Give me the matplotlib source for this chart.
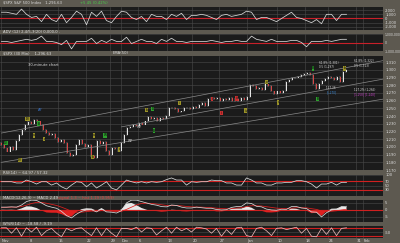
import matplotlib
matplotlib.use('Agg')
import matplotlib.pyplot as plt
import numpy as np

# ---------------- data ----------------
closes = [1203, 1198, 1194, 1200, 1196, 1208, 1215, 1222, 1228, 1232, 1230, 1235, 1233, 1228, 1222,
          1218, 1215, 1217, 1212, 1206, 1209, 1205, 1192, 1188, 1190, 1203, 1209, 1204, 1200, 1203,
          1188, 1186, 1208, 1204, 1206, 1195, 1190, 1199, 1197, 1195, 1205, 1215, 1224, 1226, 1228,
          1227, 1231, 1229, 1233, 1239, 1236, 1238, 1234, 1237, 1236, 1240, 1250, 1251, 1249, 1245,
          1246, 1250, 1251, 1249, 1252, 1250, 1254, 1257, 1253, 1262, 1264, 1262, 1263, 1260, 1262,
          1261, 1264, 1259, 1262, 1260, 1263, 1261, 1265, 1280, 1279, 1275, 1277, 1274, 1281, 1279,
          1272, 1269, 1272, 1270, 1273, 1284, 1287, 1289, 1290, 1291, 1293, 1295, 1296, 1293, 1282,
          1275, 1282, 1285, 1288, 1291, 1289, 1287, 1291, 1284, 1297, 1300]
first_open = 1205

p1_vals = [1500, 1500, 1250, 1000, 2250, 1000, 250, 500, -750, 1000,
           -250, -750, 1000, -1000, 250, 1750, 1000, -1500, 1500, 500,
           1750, -500, -1000, 500, 1750, 1500, 250, -250, 500, -750,
           1000, 500, 500, -250, 1000, 500, 1250, -250, 750, 750,
           1000, 750, 250, -250, 750, 1000, 500, 750, 1000, 1750,
           1500, -250, 250, 250, -250, -750, 0, 750, 1500, 250,
           0, -500, -1000, -250, -1250, 1000, 1000, -500, 1000, 1000]

p2_vals = [125, 125, 0, 125, 250, 375, 250, 375, 750, 125,
           125, 0, -250, 250, -750, 125, 125, 125, 500, -125,
           250, 0, 375, 125, 125, 625, -125, 125, 375, 125,
           125, -125, 375, 125, 500, 125, 125, 0, 125, 125,
           125, 125, 250, 125, 0, 125, 125, 250, 125, 125,
           750, 375, 250, 125, 375, 125, 125, 125, 250, 250,
           0, -500, 125, 125, 125, 250, 125, 250, 375, 375]  # thousands

rsi_vals = [68, 68, 68, 62, 62, 76, 68, 57, 68, 68,
            52, 62, 44, 33, 52, 68, 65, 44, 62, 38,
            52, 68, 38, 29, 52, 76, 68, 62, 68, 62,
            68, 65, 68, 78, 86, 76, 76, 52, 68, 65,
            68, 68, 76, 73, 73, 62, 62, 52, 52, 86,
            76, 62, 62, 52, 52, 62, 62, 65, 65, 73,
            73, 68, 57, 38, 57, 57, 65, 52, 65, 65]

macd_vals = [2.0, 2.0, 2.2, 2.0, 3.5, 6.0, 7.0, 6.8, 5.0, 3.0,
             2.0, 1.2, -1.0, -4.0, -5.7, -3.0, -1.0, 0.0, 0.2, -1.4,
             0.8, -1.4, -1.6, -2.2, -0.5, 5.0, 7.0, 7.0, 6.0, 5.0,
             4.0, 3.4, 2.4, 2.2, 3.5, 3.2, 2.0, 1.4, 1.4, 2.0,
             1.6, 1.2, 1.2, 0.3, 0.0, 0.2, 1.8, 2.4, 2.6, 5.0,
             4.6, 2.6, 2.2, 0.6, 0.0, -0.2, 0.5, 0.4, 2.4, 2.4,
             1.4, 1.0, -1.4, -1.6, -5.0, -2.0, 0.0, 0.4, 2.4, 2.6]

signal_vals = [1.8, 1.9, 2.0, 2.0, 2.4, 3.4, 4.6, 5.4, 5.4, 4.8,
               4.0, 3.2, 2.0, 0.6, -1.0, -1.6, -1.6, -1.2, -0.8, -0.9,
               -0.5, -0.7, -0.9, -1.2, -1.0, 0.4, 2.0, 3.6, 4.6, 4.8,
               4.6, 4.2, 3.7, 3.2, 3.3, 3.2, 2.9, 2.5, 2.2, 2.1,
               2.0, 1.8, 1.6, 1.3, 1.0, 0.8, 1.0, 1.3, 1.6, 2.4,
               3.0, 3.0, 2.8, 2.3, 1.8, 1.3, 1.1, 1.0, 1.3, 1.6,
               1.6, 1.5, 0.9, 0.4, -0.8, -1.1, -0.9, -0.6, 0.0, 0.5]

wr_vals = [-15, -15, -60, -15, -85, -15, -50, -10, -80, -40,
           -20, -60, -90, -20, -40, -20, -15, -50, -80, -15,
           -80, -20, -60, -90, -20, -20, -30, -10, -50, -15,
           -20, -75, -40, -10, -60, -10, -40, -20, -50, -10,
           -15, -25, -60, -20, -85, -30, -70, -15, -10, -80,
           -90, -20, -10, -40, -80, -20, -15, -30, -20, -10,
           -60, -20, -85, -90, -20, -70, -15, -80, -20, -15]

date_labels = ['Nov', '8', '15', '22', '29', 'Dec', '6', '13', '20', '27', 'Jan', '10', '18', '24', '31', 'Feb']
date_pos_px = [0, 28, 57, 85, 109, 120, 137, 166, 191, 218, 246, 276, 304, 327, 355, 362]

price_ticks = list(range(1170, 1320, 10))

# ---------------- layout ----------------
W, H = 400, 243
BG = '#5d5950'
PANEL = '#1b1b1b'
GRID = '#4a4a4a'
TXT = '#dcdcdc'
FS = 2.7

fig = plt.figure(figsize=(4, 2.43), dpi=100)
fig.patch.set_facecolor(BG)

n = len(closes)
bar_step_px = 3.0
xlim = (-0.5, 383 / bar_step_px - 0.5)
ind_x = np.linspace(0, n - 1, len(p1_vals))
date_pos = [p / bar_step_px for p in date_pos_px]


def ax_px(x0, y0, x1, y1):
    ax = fig.add_axes([x0 / W, 1 - y1 / H, (x1 - x0) / W, (y1 - y0) / H])
    ax.set_facecolor(PANEL)
    ax.set_xlim(*xlim)
    ax.set_xticks(date_pos)
    ax.set_xticklabels([])
    ax.tick_params(axis='x', length=0)
    ax.yaxis.tick_right()
    ax.tick_params(axis='y', length=0, labelsize=FS, labelcolor=TXT, pad=1.5)
    for s in ax.spines.values():
        s.set_visible(False)
    ax.grid(True, color=GRID, lw=0.4)
    ax.set_axisbelow(True)
    return ax


def fmt(v):
    return f'{v:,.0f}'

# Panel 1
ax1 = ax_px(0, 7, 383, 30)
ax1.set_ylim(-2750, 2750)
ax1.set_yticks([2000, 1000, 0, -1000, -2000])
ax1.set_yticklabels([fmt(v) for v in [2000, 1000, 0, -1000, -2000]])
ax1.axhline(0, color='#c8202a', lw=0.8)
ax1.plot(ind_x, p1_vals, color='#d8d8d8', lw=0.55)

# Panel 2
ax2 = ax_px(0, 34, 383, 51)
ax2.set_ylim(-1000, 1000)
ax2.set_yticks([1000, 0, -1000])
ax2.set_yticklabels(['1,000,000', '0', '-1,000,000'])
ax2.tick_params(axis='y', labelsize=2.2, pad=1.0)
ax2.axhline(0, color='#c8202a', lw=0.8)
ax2.plot(ind_x, p2_vals, color='#d8d8d8', lw=0.55)

# Main price panel
ax3 = ax_px(0, 56, 383, 170)
ax3.set_ylim(1170, 1318)
ax3.set_yticks(price_ticks)
ax3.set_yticklabels([fmt(v) for v in price_ticks])
opens = [first_open] + closes[:-1]
xs = np.arange(n)
for i in range(n):
    o, c = opens[i], closes[i]
    col = '#f0f0f0' if c >= o else '#e02828'
    lo, hi = min(o, c), max(o, c)
    ax3.vlines(xs[i], lo - 1.2, hi + 1.2, color='#bbbbbb', lw=0.3)
    ax3.bar(xs[i], max(hi - lo, 0.6), bottom=lo, width=0.5, color=col, lw=0)

# channel lines
chan = [((0, 1218), (127.2, 1312)), ((40, 1226), (127.2, 1288)), ((0, 1180), (127.2, 1262))]
for (xa, ya), (xb, yb) in chan:
    ax3.plot([xa, xb], [ya, yb], color='#8a8a8a', lw=0.5)

ax3.text(9, 1305, '30-minute chart', fontsize=FS, color=TXT)

olive = '#9a9228'
green = '#2ea02e'
tags = [
    (0.8, 1205, '(1)', green), (8, 1236, '(3)', olive), (10.5, 1215, 'a', olive),
    (14, 1210, 'c', olive), (5.5, 1183, '(2)', olive), (12, 1230, 'B', green),
    (30.5, 1215, 'a', olive), (34, 1215, 'W', green), (30, 1187, 'b', olive),
    (39, 1197, 'c', olive), (48, 1248, 'b', olive), (50, 1249, 'D', green),
    (50.5, 1221, 'B', green), (59, 1257, 'ii', olive), (70, 1262, 'i', '#c83030'),
    (73, 1244, 'ii', '#c83030'), (78, 1263, 'iii', '#c83030'), (81, 1247, 'iv', olive),
    (88, 1284, 'v', olive), (92, 1258, 'c', olive), (103.5, 1302, 'B', green),
    (105, 1262, 'B', green), (114, 1302, 'b', olive),
]
for tx, ty, t, c in tags:
    ax3.text(tx, ty, t, fontsize=2.2, color='black', ha='left', va='center',
             bbox=dict(boxstyle='square,pad=0.1', fc=c, ec='none'))
ax3.text(12, 1247, 'A?', fontsize=FS, color='#3a7ad8')
ax3.text(45, 1225, 'W?', fontsize=2.3, color=TXT)
ax3.text(42, 1207, 'W?', fontsize=2.3, color=TXT)
ax3.text(106, 1307, '61.8% (1,301)', fontsize=2.0, color=TXT)
ax3.text(106, 1302, '0.5 (1,297)', fontsize=2.0, color=TXT)
ax3.text(117.5, 1310, '61.8% (1,322)', fontsize=2.0, color=TXT)
ax3.text(117.5, 1304, '0.5 (1,313)', fontsize=2.0, color=TXT)
ax3.text(108, 1275, '1,27.36', fontsize=2.0, color=TXT)
ax3.text(108.5, 1269, '[1,270]', fontsize=2.0, color='#3a8ad8')
ax3.text(117.5, 1272, '127.2% (1,265)', fontsize=2.0, color=TXT)
ax3.text(117.5, 1267, '[1,258] [1,248]', fontsize=2.0, color='#c040c0')

# RSI panel
ax4 = ax_px(0, 175, 383, 196)
ax4.set_ylim(0, 100)
ax4.set_yticks([100, 70, 50, 30])
ax4.set_yticklabels(['100', '70', '50', '30'])
ax4.axhline(70, color='#d02020', lw=0.8)
ax4.axhline(30, color='#d02020', lw=0.8)
ax4.plot(ind_x, rsi_vals, color='#d8d8d8', lw=0.55)

# MACD panel
ax5 = ax_px(0, 200, 383, 222)
ax5.set_ylim(-8.6, 7.1)
ax5.set_yticks([5, 0, -5])
ax5.set_yticklabels(['5', '0', '-5'])
macd = np.array(macd_vals)
sig = np.array(signal_vals)
hist = macd - sig
ax5.fill_between(ind_x, 0, hist, where=hist >= 0, color='#e8e8e8', lw=0, interpolate=True)
ax5.fill_between(ind_x, 0, hist, where=hist < 0, color='#e02020', lw=0, interpolate=True)
ax5.axhline(0, color='#d02020', lw=0.8)
ax5.plot(ind_x, sig, color='#e02020', lw=0.55)
ax5.plot(ind_x, macd, color='#d8d8d8', lw=0.55)

# W%R panel
ax6 = ax_px(0, 226, 383, 238)
ax6.set_ylim(-100, 0)
ax6.set_yticks([-50])
ax6.set_yticklabels(['-50'])
ax6.axhline(-20, color='#d02020', lw=0.8)
ax6.axhline(-80, color='#d02020', lw=0.8)
ax6.plot(ind_x, wr_vals, color='#e8b8b8', lw=0.55)
ax6.set_xticklabels(date_labels)
ax6.tick_params(axis='x', labelsize=FS, labelcolor=TXT, pad=1.0)
for lab in ax6.get_xticklabels():
    lab.set_ha('left')

# strip labels
def strip(x, y, s, c=TXT, fs=FS):
    fig.text(x / W, 1 - y / H, s, fontsize=fs, color=c, va='center', ha='left')

strip(3, 2.5, '$SPX S&P 500 Index   1,296.63', TXT)
strip(80, 2.5, '+5.45 (0.42%)', '#4ad04a')
strip(3, 32, 'ADV (12) 2,4/5,3(20) 0,000,0 .', TXT)
strip(3, 53.5, '$SPX (30 Min)    1,296.63', TXT)
strip(113, 53.5, 'EMA(50)', TXT)
strip(3, 172.5, 'RSI(14) ~ 64.97 / 57.32', TXT)
strip(3, 198, 'MACD(12,26,9) ~ MACD 2.49', TXT)
strip(58, 198, 'signal 1.3 ~ hist 1.19 (0.959)', '#e04040')
strip(3, 224, 'W%R(14) ~ -18.58 / -9.19', TXT)

fig.savefig('out.png', dpi=100, facecolor=BG)
